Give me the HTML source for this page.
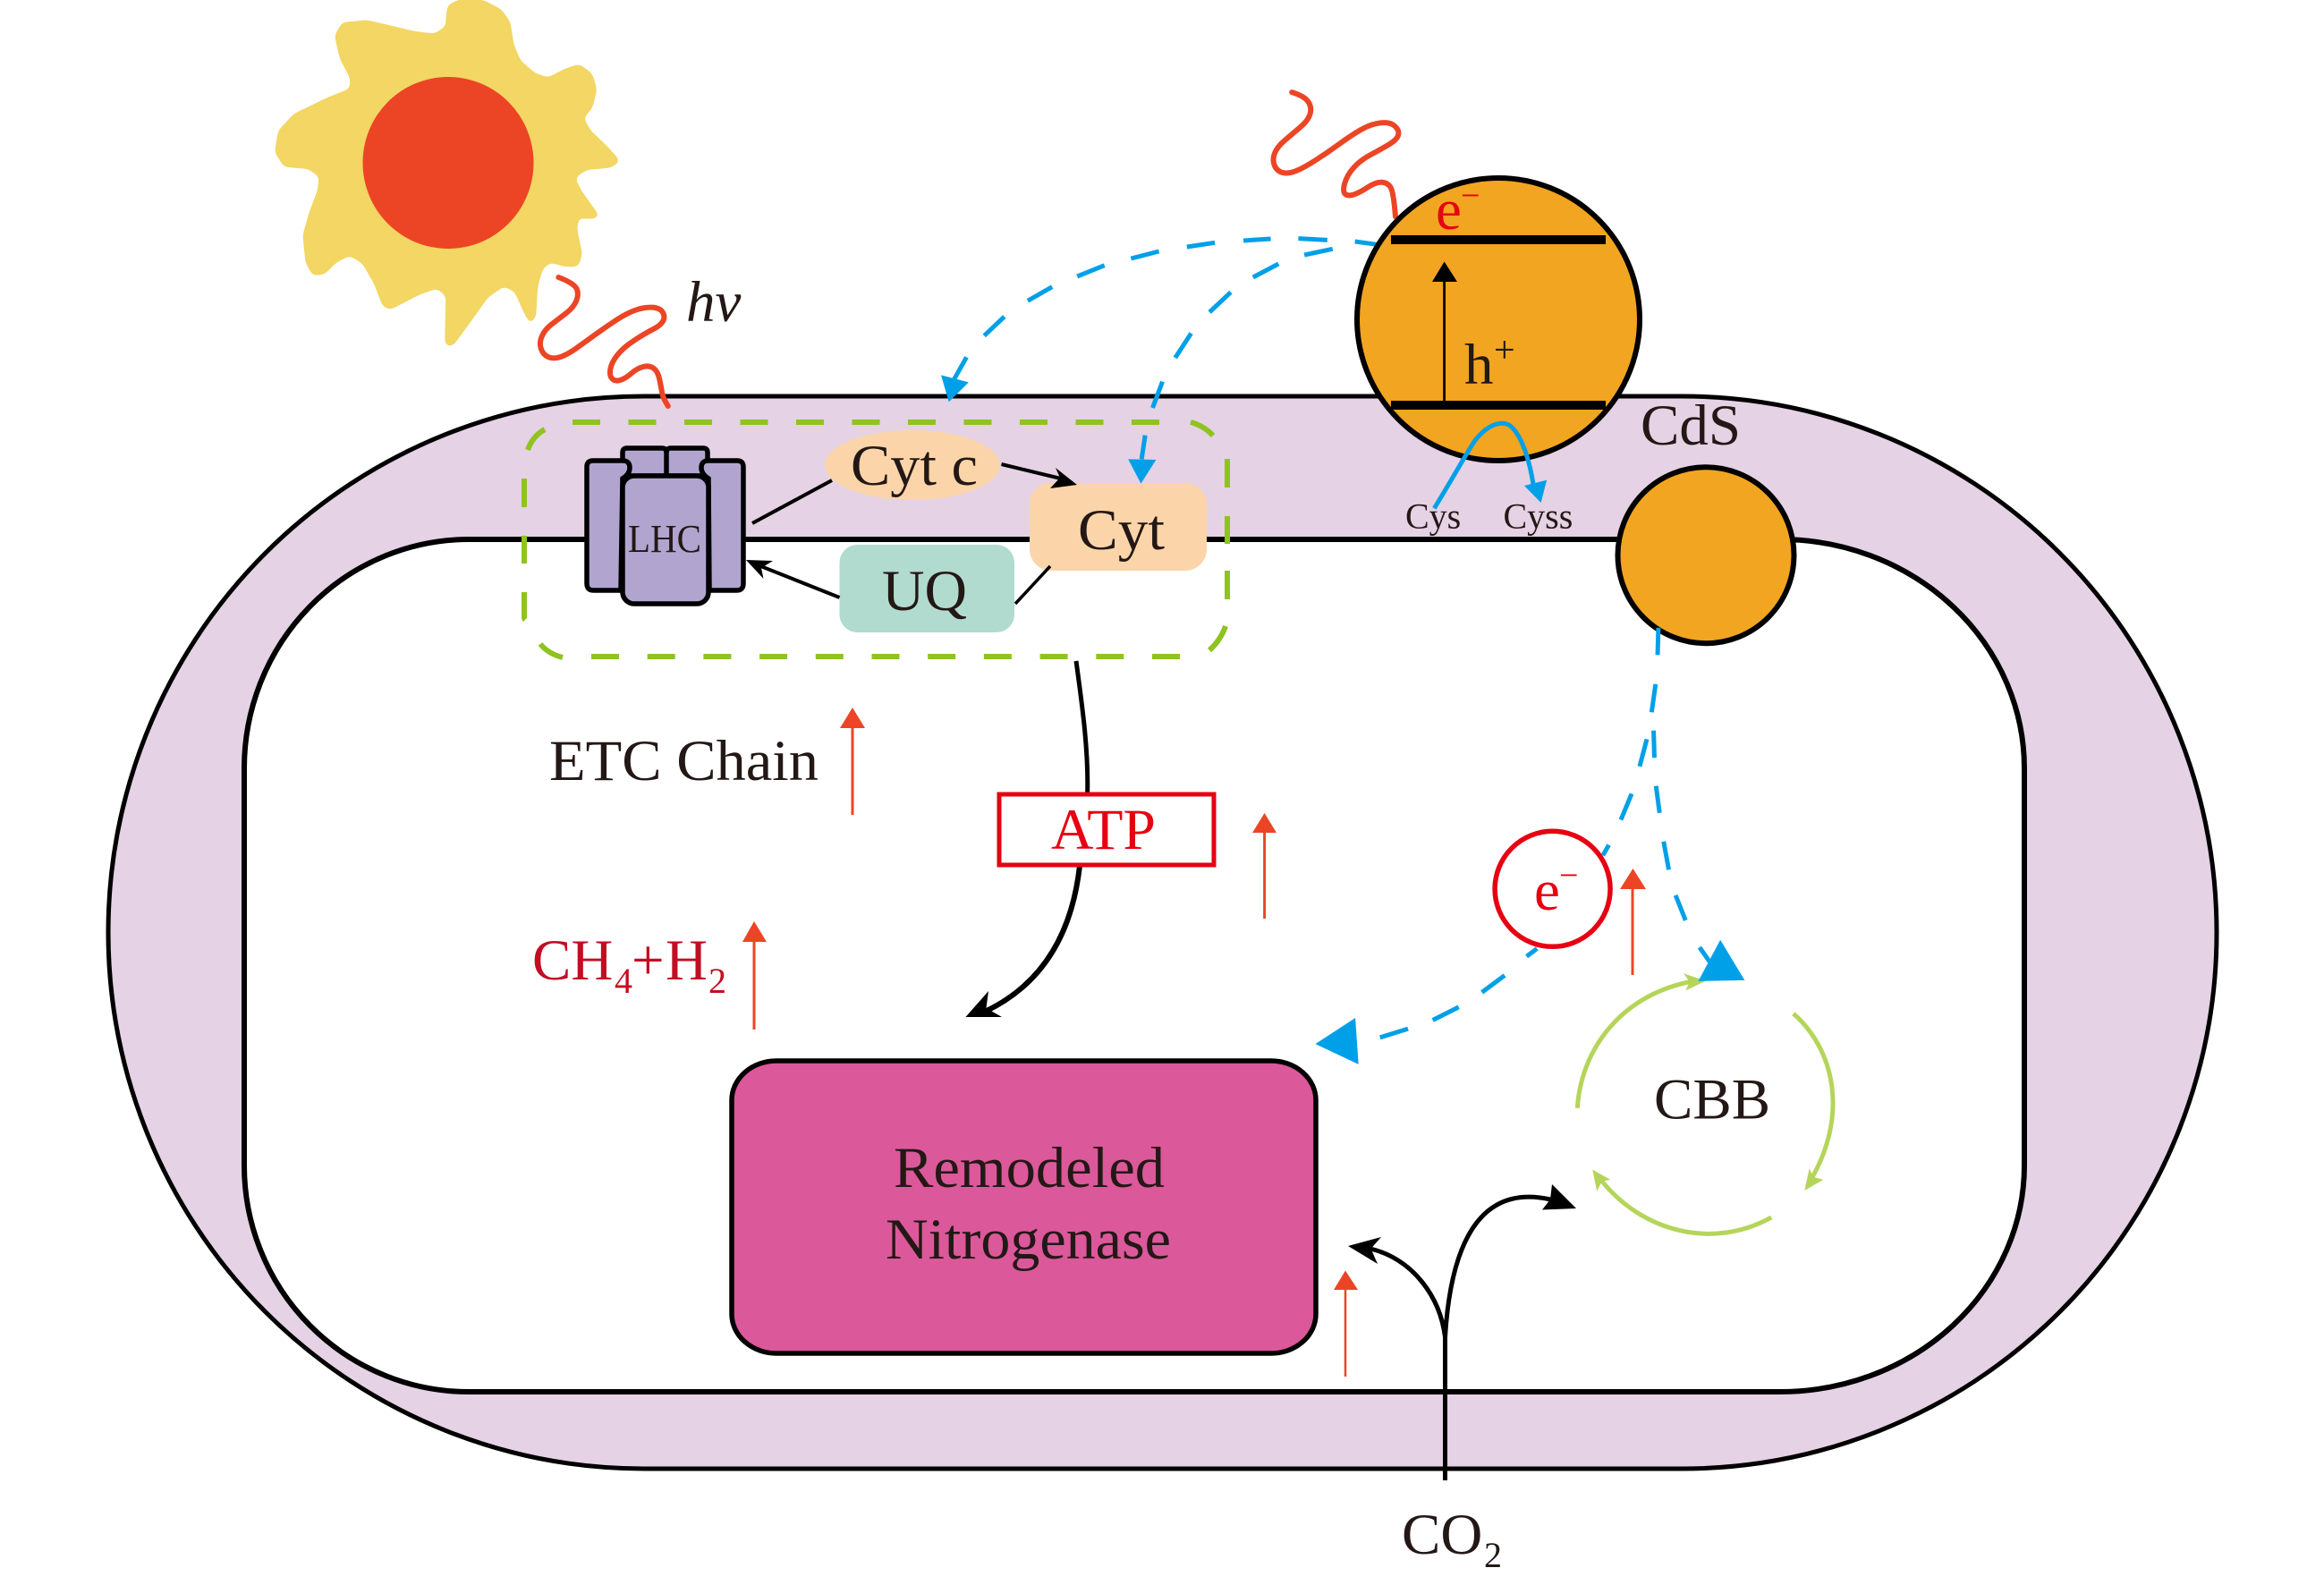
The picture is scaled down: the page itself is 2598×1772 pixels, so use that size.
<!DOCTYPE html>
<html lang="en"><head><meta charset="utf-8"><title>Diagram</title>
<style>
html,body{margin:0;padding:0;background:#fff}
svg{display:block}
text{font-family:"Liberation Serif",serif;fill:#231815}
.n *{vector-effect:non-scaling-stroke}
</style></head><body>
<svg xmlns="http://www.w3.org/2000/svg" width="2598" height="1772" viewBox="0 0 2598 1772">
<defs>
<filter id="smooth" filterUnits="userSpaceOnUse" x="260" y="-30" width="480" height="460" color-interpolation-filters="sRGB">
<feGaussianBlur stdDeviation="3.5"/>
<feComponentTransfer><feFuncA type="linear" slope="24" intercept="-11"/></feComponentTransfer>
</filter>
</defs>
<rect width="2598" height="1772" fill="#fff"/>

<!-- membranes -->
<path d="M720,443 H1880 A598,599.5 0 0 1 2478,1042.5 A598,599.5 0 0 1 1880,1642 H720 A599,599.5 0 0 1 121,1042.5 A599,599.5 0 0 1 720,443 Z" fill="#E5D2E4" stroke="#000" stroke-width="5"/>
<path d="M524,603 H1990 A273,256 0 0 1 2263,859 V1303 A273,253 0 0 1 1990,1556 H524 A251,253 0 0 1 273,1303 V859 A251,256 0 0 1 524,603 Z" fill="#fff" stroke="#000" stroke-width="6"/>

<!-- sun -->
<g filter="url(#smooth)">
<g class="n" transform="translate(280,0) scale(.38265,.33333)">
<polygon fill="#F3D663" stroke="#F3D663" stroke-width="3" stroke-linejoin="round" points="575,60 580,20 610,3 680,5 730,35 755,75 765,150 785,205 830,250 870,265 920,235 960,220 995,250 1008,300 995,360 968,395 990,440 1040,495 1075,540 1050,558 980,565 942,595 965,645 1015,725 990,730 955,725 950,770 965,850 955,890 920,890 875,875 850,900 835,960 830,1060 818,1080 800,1040 775,975 740,955 690,995 650,1060 590,1155 572,1155 575,990 545,962 490,985 410,1033 390,1025 365,950 330,880 290,852 250,875 215,915 185,920 165,880 157,790 175,715 200,640 205,590 170,562 100,555 75,510 85,440 130,385 220,335 295,300 295,260 265,195 250,120 270,80 340,72 480,110 540,118 575,90"/>
</g>
</g>
<g class="n" transform="translate(280,0) scale(.38265,.33333)">
<path fill="none" stroke="#EC4525" stroke-width="6" stroke-linecap="round" stroke-linejoin="round" d="M900,930 Q945,950 952.5,967.5 Q960,985 952.5,1007.5 Q945,1030 922.5,1050 Q900,1070 880,1087.5 Q860,1105 851.5,1127.5 Q843,1150 849,1170 Q855,1190 870,1197.5 Q885,1205 905,1197.5 Q925,1190 952.5,1167.5 Q980,1145 1010,1120 Q1040,1095 1070,1072.5 Q1100,1050 1125,1040 Q1150,1030 1172.5,1031 Q1195,1032 1203.5,1046 Q1212,1060 1206,1075 Q1200,1090 1175,1105 Q1150,1120 1120,1142.5 Q1090,1165 1072.5,1190 Q1055,1215 1051.5,1237.5 Q1048,1260 1056.5,1270 Q1065,1280 1080,1275 Q1095,1270 1112.5,1252.5 Q1130,1235 1147.5,1230 Q1165,1225 1177.5,1235 Q1190,1245 1195,1272.5 Q1200,1300 1202.5,1317.5 Q1205,1335 1220,1362"/>
</g>
<ellipse cx="501" cy="182" rx="95.5" ry="96" fill="#EC4525"/>
<text x="767" y="359" font-size="65" font-style="italic">hv</text>

<!-- wave 2 -->
<g class="n" transform="translate(1380,80) scale(.43367,.42092)">
<path fill="none" stroke="#EC4525" stroke-width="6" stroke-linecap="round" stroke-linejoin="round" d="M148,55 Q180,65 190,80 Q200,95 195,112.5 Q190,130 170,147.5 Q150,165 130,182.5 Q110,200 103.5,217.5 Q97,235 103.5,250 Q110,265 125,268.5 Q140,272 160,263.5 Q180,255 210,235 Q240,215 270,192.5 Q300,170 325,155 Q350,140 375,136.5 Q400,133 412.5,144 Q425,155 422.5,167.5 Q420,180 400,192.5 Q380,205 352.5,220 Q325,235 307.5,255 Q290,275 284,297.5 Q278,320 286.5,326 Q295,332 310,326 Q325,320 345,306.5 Q365,293 380,294 Q395,295 402.5,307.5 Q410,320 415,385"/>
</g>

<!-- green dashed box -->
<g fill="none" stroke="#8FC31F" stroke-width="6">
<path d="M640,472 H1296" stroke-dasharray="31 31.5"/>
<path d="M661,734 H1321" stroke-dasharray="31 31.7"/>
<path d="M586,535 V567 M586,599 V630 M586,662 V690 Q586,692 587,693"/>
<path d="M1372,513 V545 M1372,577 V608 M1372,638 V670 M1370,700 Q1365,715 1352,727"/>
<path d="M590,503 Q595,488 609,480"/>
<path d="M604,720 Q613,731 629,735"/>
<path d="M1331,472 Q1346,476 1356,487"/>
</g>

<!-- LHC -->
<g stroke="#000" stroke-width="5.5" fill="#B1A5D0">
<path d="M696,532 V506 Q696,501 701,501 H740 Q745,501 745,506 Q745,501 750,501 H786 Q791,501 791,506 V532 Z"/>
<path d="M745,502 V532" fill="none"/>
<path d="M694,660 H663 Q656,660 656,652 V522 Q656,515 663,515 H696 Q704,515 704,523 Q704,530 696,535 Z"/>
<path d="M793,660 H824 Q831,660 831,652 V522 Q831,515 824,515 H792 Q784,515 784,523 Q784,530 792,535 Z"/>
<rect x="696" y="532" width="96" height="143" rx="13"/>
</g>
<text x="702" y="617" font-size="44" textLength="82" lengthAdjust="spacingAndGlyphs">LHC</text>

<!-- Cyt c, Cyt, UQ -->
<line x1="930" y1="537" x2="841" y2="585" stroke="#000" stroke-width="4"/>
<ellipse cx="1020" cy="520" rx="98" ry="39" fill="#FBD5A9"/>
<text x="951" y="542" font-size="65" textLength="142" lengthAdjust="spacingAndGlyphs">Cyt c</text>
<rect x="1151" y="540" width="198" height="98" rx="24" fill="#FBD5A9"/>
<text x="1205" y="614" font-size="65" textLength="97" lengthAdjust="spacingAndGlyphs">Cyt</text>
<rect x="938.5" y="609" width="195.5" height="98" rx="20" fill="#B1DBCE"/>
<text x="986" y="682" font-size="65" textLength="95" lengthAdjust="spacingAndGlyphs">UQ</text>
<line x1="1119.5" y1="519" x2="1190" y2="536" stroke="#000" stroke-width="4"/>
<polygon points="1204,542 1180,523 1185,534 1174,546" fill="#000"/>
<line x1="938.5" y1="668" x2="848" y2="632" stroke="#000" stroke-width="4"/>
<polygon points="834,626 864,627 851,635 853.5,647" fill="#000"/>
<line x1="1174" y1="633" x2="1135" y2="675" stroke="#000" stroke-width="3.5"/>

<!-- blue top dashes -->
<g class="n" transform="translate(950,220) scale(.39541,.33333)" stroke="#00A0E9" stroke-width="5" fill="none">
<path d="M1490,160 L1428,150 M1350,145 L1268,140 M1190,141 L1113,147 M1032,154 L953,168 M874,183 L795,207 M720,230 L643,267 M572,302 L503,349 M437,402 L380,466 M330,538 L295,612"/>
<path d="M1365,175 L1285,195 M1212,225 L1140,270 M1077,320 L1017,387 M965,458 L920,540 M884,620 L856,708 M835,800 L825,880"/>
<polygon points="280,688 258,598 336,622" fill="#00A0E9" stroke="none"/>
<polygon points="823,962 787,880 866,882" fill="#00A0E9" stroke="none"/>
</g>

<!-- CdS big -->
<circle cx="1675" cy="357" r="158" fill="#F2A521" stroke="#000" stroke-width="6"/>
<rect x="1555" y="263" width="240" height="10" fill="#000"/>
<rect x="1555" y="448" width="240" height="10" fill="#000"/>
<line x1="1614.6" y1="450" x2="1614.6" y2="312" stroke="#000" stroke-width="2.8"/>
<polygon points="1614.6,292.5 1601,315 1629,315" fill="#000"/>
<text x="1605" y="256" font-size="65" style="fill:#E60012">e</text>
<text x="1633" y="231" font-size="38" style="fill:#E60012">−</text>
<text x="1637" y="429" font-size="65">h</text>
<text x="1670" y="405" font-size="42">+</text>

<g class="n" transform="translate(1380,80) scale(.43367,.42092)">
<path d="M515,1160 C560,1085 600,1010 620,980 C650,940 685,925 710,940 C740,965 760,1030 770,1095" fill="none" stroke="#00A0E9" stroke-width="5"/>
<polygon points="790,1145 747,1100 805,1085" fill="#00A0E9"/>
</g>
<text x="1571" y="590.5" font-size="40">Cys</text>
<text x="1680.5" y="590.5" font-size="40">Cyss</text>
<text x="1834" y="497" font-size="65">CdS</text>

<!-- CdS small -->
<circle cx="1907" cy="620.7" r="98.5" fill="#F2A521" stroke="#000" stroke-width="6"/>

<!-- CBB cycle and right blue dashes -->
<g class="n" transform="translate(1420,680) scale(.44643,.48469)">
<g fill="none" stroke="#B5D55A" stroke-width="5">
<path d="M769,1153 C780,1000 900,880 1075,858"/>
<path d="M1310,935 C1410,1015 1455,1170 1345,1332"/>
<path d="M1255,1405 C1110,1480 930,1440 825,1315"/>
</g>
<g fill="#B5D55A">
<polygon points="1090,860 1035,842 1050,862 1040,882"/>
<polygon points="1338,1343 1350,1292 1360,1312 1385,1318"/>
<polygon points="807,1295 852,1318 830,1322 818,1345"/>
</g>
<g stroke="#00A0E9" stroke-width="5" fill="none">
<path d="M972,45 L970,108 M965,175 L955,240 M960,282 L962,345 M966,410 L975,472 M985,538 L998,603 M1015,662 L1040,720 M1075,782 L1100,815"/>
<path d="M943,302 L925,365 M905,428 L878,488 M848,546 L833,570"/>
<path d="M668,785 L642,803 M587,847 L530,886 M472,920 L407,950 M345,970 L275,990"/>
</g>
<polygon points="1127,765 1072,860 1188,858" fill="#00A0E9"/>
<polygon points="113,1005 213,945 221,1052" fill="#00A0E9"/>
</g>
<circle cx="1735.6" cy="993.8" r="64.5" fill="#fff" stroke="#E60012" stroke-width="5.5"/>
<text x="1715" y="1017" font-size="65" style="fill:#E60012">e</text>
<text x="1743" y="991" font-size="38" style="fill:#E60012">−</text>
<text x="1849" y="1250.5" font-size="65">CBB</text>

<!-- orange up arrows -->
<g stroke="#EC4525" stroke-width="3">
<line x1="1825" y1="990" x2="1825" y2="1090"/>
<line x1="953" y1="810" x2="953" y2="911"/>
<line x1="1413.6" y1="928" x2="1413.6" y2="1027"/>
<line x1="843" y1="1050" x2="843" y2="1151"/>
<line x1="1504" y1="1440" x2="1504" y2="1539" stroke-width="2.5"/>
</g>
<g fill="#EC4525">
<polygon points="1825.5,971 1811,994 1840,994"/>
<polygon points="953,791 939,814 967,814"/>
<polygon points="1413.6,909 1400,931 1427,931"/>
<polygon points="843,1030 830,1053 857,1053"/>
<polygon points="1504,1420.5 1491,1442 1518,1442"/>
</g>

<!-- labels -->
<text x="614" y="872" font-size="65" textLength="301" lengthAdjust="spacingAndGlyphs">ETC Chain</text>
<text x="595" y="1095" font-size="65" style="fill:#C30D23">CH</text>
<text x="687" y="1110" font-size="40" style="fill:#C30D23">4</text>
<text x="706" y="1095" font-size="65" style="fill:#C30D23">+</text>
<text x="744" y="1095" font-size="65" style="fill:#C30D23">H</text>
<text x="792" y="1110" font-size="40" style="fill:#C30D23">2</text>

<!-- ATP -->
<path d="M1203,739 C1210,790 1217,840 1215.6,888" fill="none" stroke="#000" stroke-width="5"/>
<path d="M1207,968 C1200,1030 1175,1095 1103,1130" fill="none" stroke="#000" stroke-width="6"/>
<polygon points="1079.5,1137 1105,1108 1102.5,1127 1120,1137" fill="#000"/>
<rect x="1117" y="888" width="240" height="79" fill="#fff" stroke="#E60012" stroke-width="5"/>
<text x="1175" y="949" font-size="65" textLength="117" lengthAdjust="spacingAndGlyphs" style="fill:#E60012">ATP</text>

<!-- Nitrogenase -->
<rect x="818" y="1186" width="653" height="327" rx="50" ry="44" fill="#DB589B" stroke="#000" stroke-width="5.5"/>
<text x="999" y="1327" font-size="65" textLength="303" lengthAdjust="spacingAndGlyphs">Remodeled</text>
<text x="990" y="1407" font-size="65" textLength="319" lengthAdjust="spacingAndGlyphs">Nitrogenase</text>

<!-- CO2 -->
<line x1="1615.5" y1="1492" x2="1615.5" y2="1655" stroke="#000" stroke-width="5"/>
<path d="M1615.5,1495 C1610,1450 1580,1408 1532,1396" fill="none" stroke="#000" stroke-width="5"/>
<polygon points="1507,1393 1544,1383 1532.5,1396 1540,1413" fill="#000"/>
<path d="M1615.5,1495 C1620,1420 1640,1320 1733,1341" fill="none" stroke="#000" stroke-width="5"/>
<polygon points="1762,1351 1735,1324 1733,1341 1724,1352.5" fill="#000"/>
<text x="1567" y="1737" font-size="65">CO</text>
<text x="1659" y="1752" font-size="40">2</text>
</svg>
</body></html>
